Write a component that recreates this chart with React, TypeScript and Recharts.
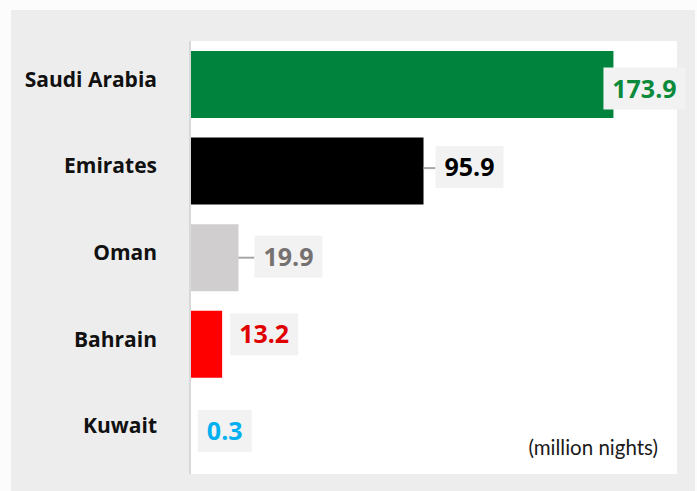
import React from 'react';
import { BarChart, Bar, XAxis, YAxis, CartesianGrid, Cell, LabelList } from 'recharts';

const countries = ['Saudi Arabia', 'Emirates', 'Oman', 'Bahrain', 'Kuwait'];
const nights = [173.9, 95.9, 19.9, 13.2, 0.3];
const barColors = ['#00843d', '#000000', '#d0cece', '#ff0000', '#00b0f0'];
const labelColors = ['#0a8a3a', '#000000', '#767171', '#e00000', '#00b0f0'];
const unitNote = '(million nights)';

// label box placement tweaks (relative to bar end / bar centre)
const labelNudge = [
  { dx: -10, dy: 4, leader: false },
  { dx: 12, dy: -4, leader: true },
  { dx: 16, dy: -1, leader: true },
  { dx: 8, dy: -10, leader: false },
  { dx: 7, dy: 0, leader: false },
];

const data = countries.map((name, i) => ({ name, value: nights[i] }));

const VALUE_FONT = '"Open Sans", "Noto Sans", sans-serif';
const CAT_FONT = '"Open Sans", "Noto Sans", sans-serif';
const NOTE_FONT = 'Lato, "Noto Sans", sans-serif';

function boxWidth(text: string) {
  let w = 18;
  for (const ch of text) w += ch === '.' ? 8 : 14;
  return w;
}

const ValueLabel = (props: any) => {
  const { x, y, width, height, value, index } = props;
  const text = Number(value).toFixed(1);
  const n = labelNudge[index] || { dx: 8, dy: 0, leader: false };
  const barEnd = Number(x) + Number(width);
  const cy = Number(y) + Number(height) / 2 + n.dy;
  const bw = boxWidth(text);
  const bh = 42;
  const bx = barEnd + n.dx;
  return (
    <g>
      {n.leader && (
        <line x1={barEnd} y1={cy + 1} x2={bx} y2={cy + 1} stroke="#a6a6a6" strokeWidth={2} />
      )}
      <rect x={bx} y={cy - bh / 2} width={bw} height={bh} fill="#f2f2f2" />
      <text
        x={bx + bw / 2}
        y={cy + 9}
        textAnchor="middle"
        fill={labelColors[index]}
        fontFamily={VALUE_FONT}
        fontWeight={700}
        fontSize={25}
      >
        {text}
      </text>
    </g>
  );
};

const CategoryTick = (props: any) => {
  const { x, y, payload } = props;
  return (
    <text
      x={x}
      y={Number(y) + 2.5}
      textAnchor="end"
      fill="#111111"
      fontFamily={CAT_FONT}
      fontWeight={700}
      fontSize={21}
    >
      {payload.value}
    </text>
  );
};

export default function App() {
  return (
    <div style={{ position: 'absolute', left: 0, top: 0, width: 697, height: 491, background: '#fcfcfc', overflow: 'hidden' }}>
      <div style={{ position: 'absolute', left: 11, top: 10, width: 684, height: 481, background: '#ededed' }} />
      <div style={{ position: 'absolute', left: 0, top: 0 }}>
        <BarChart
          width={697}
          height={491}
          data={data}
          layout="vertical"
          margin={{ top: 41, right: 20, bottom: 17, left: 10 }}
          barSize={67}
        >
          <CartesianGrid horizontal={false} vertical={false} fill="#ffffff" stroke="none" />
          <XAxis type="number" domain={[0, 200]} hide />
          <YAxis
            type="category"
            dataKey="name"
            width={180}
            axisLine={{ stroke: '#d9d9d9', strokeWidth: 2 }}
            tickLine={false}
            tickSize={0}
            tickMargin={33}
            tick={<CategoryTick />}
            interval={0}
          />
          <Bar dataKey="value" isAnimationActive={false}>
            {data.map((d, i) => (
              <Cell key={d.name} fill={barColors[i]} />
            ))}
            <LabelList dataKey="value" content={<ValueLabel />} />
          </Bar>
        </BarChart>
      </div>
      <div
        style={{
          position: 'absolute',
          right: 697 - 658,
          top: 437,
          fontFamily: NOTE_FONT,
          fontSize: 20.5,
          lineHeight: '20px',
          color: '#1a1a1a',
          whiteSpace: 'nowrap',
        }}
      >
        {unitNote}
      </div>
    </div>
  );
}
